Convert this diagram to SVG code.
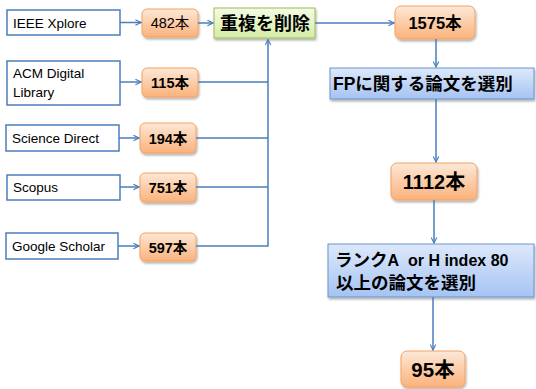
<svg xmlns="http://www.w3.org/2000/svg" width="536" height="389" viewBox="0 0 536 389">
<defs>
<linearGradient id="gOr" x1="0" y1="0" x2="0" y2="1"><stop offset="0" stop-color="#fde8d7"/><stop offset="1" stop-color="#fbb27b"/></linearGradient>
<linearGradient id="gGr" x1="0" y1="0" x2="0" y2="1"><stop offset="0" stop-color="#f4fbe3"/><stop offset="1" stop-color="#d5eda6"/></linearGradient>
<linearGradient id="gBl" x1="0" y1="0" x2="0" y2="1"><stop offset="0" stop-color="#dde9fb"/><stop offset="1" stop-color="#a5c3f3"/></linearGradient>
<filter id="sh" x="-10%" y="-10%" width="120%" height="140%"><feDropShadow dx="1" dy="2" stdDeviation="1.2" flood-color="#000" flood-opacity="0.3"/></filter>
<marker id="ar" viewBox="0 0 10 10" refX="9" refY="5" markerWidth="7" markerHeight="7" markerUnits="userSpaceOnUse" orient="auto"><path d="M1,1 L9,5 L1,9" fill="none" stroke="#4a7ebb" stroke-width="1.6"/></marker>
</defs>
<style>
text{font-family:"Liberation Sans","Noto Sans CJK JP",sans-serif;fill:#000}
.src{fill:#fff;stroke:#4a7ebb;stroke-width:1.5}
.or{fill:url(#gOr);stroke:#f5a160;stroke-width:1}
.gr{fill:url(#gGr);stroke:#9bbb59;stroke-width:1}
.bl{fill:url(#gBl);stroke:#6d93cc;stroke-width:1}
.c line,.c path{stroke:#4a7ebb;stroke-width:1.5;fill:none}
.s13{font-size:13.5px}
.m{text-anchor:middle}
.b{font-weight:bold}
</style>
<g id="ieee"><rect class="src" x="7" y="10" width="113" height="25"/><text class="s13" x="13" y="27.5">IEEE Xplore</text></g>
<g id="acm"><rect class="src" x="7" y="61" width="113" height="44"/><text class="s13" x="13" y="78">ACM Digital</text><text class="s13" x="13" y="97">Library</text></g>
<g id="sd"><rect class="src" x="6" y="125" width="113" height="26"/><text class="s13" x="12" y="143">Science Direct</text></g>
<g id="scopus"><rect class="src" x="7" y="175" width="113" height="25"/><text class="s13" x="13" y="192">Scopus</text></g>
<g id="gs"><rect class="src" x="6" y="233" width="112" height="26"/><text class="s13" x="12" y="251">Google Scholar</text></g>

<g id="n482"><rect class="or" filter="url(#sh)" x="142" y="9" width="56" height="28" rx="5"/><text class="m" x="170" y="28" font-size="14.5">482本</text></g>
<g id="n115"><rect class="or" filter="url(#sh)" x="142" y="68" width="56" height="29" rx="5"/><text class="m b" x="170" y="88" font-size="14.5">115本</text></g>
<g id="n194"><rect class="or" filter="url(#sh)" x="140" y="123" width="56" height="30" rx="5"/><text class="m b" x="168" y="144" font-size="14.5">194本</text></g>
<g id="n751"><rect class="or" filter="url(#sh)" x="140" y="173" width="56" height="29" rx="5"/><text class="m b" x="168" y="193" font-size="14.5">751本</text></g>
<g id="n597"><rect class="or" filter="url(#sh)" x="140" y="233" width="56" height="28" rx="5"/><text class="m b" x="168" y="253" font-size="14.5">597本</text></g>

<g id="dedup"><rect class="gr" filter="url(#sh)" x="214" y="8" width="101" height="30"/><text class="m b" x="265" y="30" font-size="18">重複を削除</text></g>
<g id="n1575"><rect class="or" filter="url(#sh)" x="395" y="6" width="80" height="33" rx="6"/><text class="m b" x="435" y="29" font-size="16.5">1575本</text></g>
<g id="fp"><rect class="bl" filter="url(#sh)" x="330" y="68" width="204" height="31"/><text class="b" x="333" y="90" font-size="17.5">FPに関する論文を選別</text></g>
<g id="n1112"><rect class="or" filter="url(#sh)" x="391" y="163" width="86" height="37" rx="6"/><text class="m b" x="434" y="188.5" font-size="20">1112本</text></g>
<g id="rank"><rect class="bl" filter="url(#sh)" x="328" y="244" width="206" height="53"/><text class="b" x="335" y="266" font-size="17.5">ランク<tspan font-size="16">A&#160; or H index 80</tspan></text><text class="b" x="336" y="289" font-size="17.5">以上の論文を選別</text></g>
<g id="n95"><rect class="or" filter="url(#sh)" x="401" y="351" width="64" height="36" rx="6"/><text class="m b" x="433" y="376.5" font-size="20.5">95本</text></g>

<g id="connectors" class="c">
<line x1="120" y1="22.5" x2="141" y2="22.5" marker-end="url(#ar)"/>
<line x1="120" y1="82" x2="141" y2="82" marker-end="url(#ar)"/>
<line x1="119" y1="138" x2="139" y2="138" marker-end="url(#ar)"/>
<line x1="120" y1="187" x2="139" y2="187" marker-end="url(#ar)"/>
<line x1="118" y1="246" x2="139" y2="246" marker-end="url(#ar)"/>
<line x1="198" y1="23" x2="213" y2="23" marker-end="url(#ar)"/>
<path d="M198,82 H268 M196,138 H268 M196,187 H268"/>
<path d="M196,246 H268 V39.5" marker-end="url(#ar)"/>
<line x1="315" y1="23" x2="394" y2="23" marker-end="url(#ar)"/>
<line x1="436" y1="39" x2="436" y2="67" marker-end="url(#ar)"/>
<line x1="436" y1="99" x2="436" y2="162" marker-end="url(#ar)"/>
<line x1="434" y1="200" x2="434" y2="243" marker-end="url(#ar)"/>
<line x1="433" y1="297" x2="433" y2="350" marker-end="url(#ar)"/>
</g>
</svg>
